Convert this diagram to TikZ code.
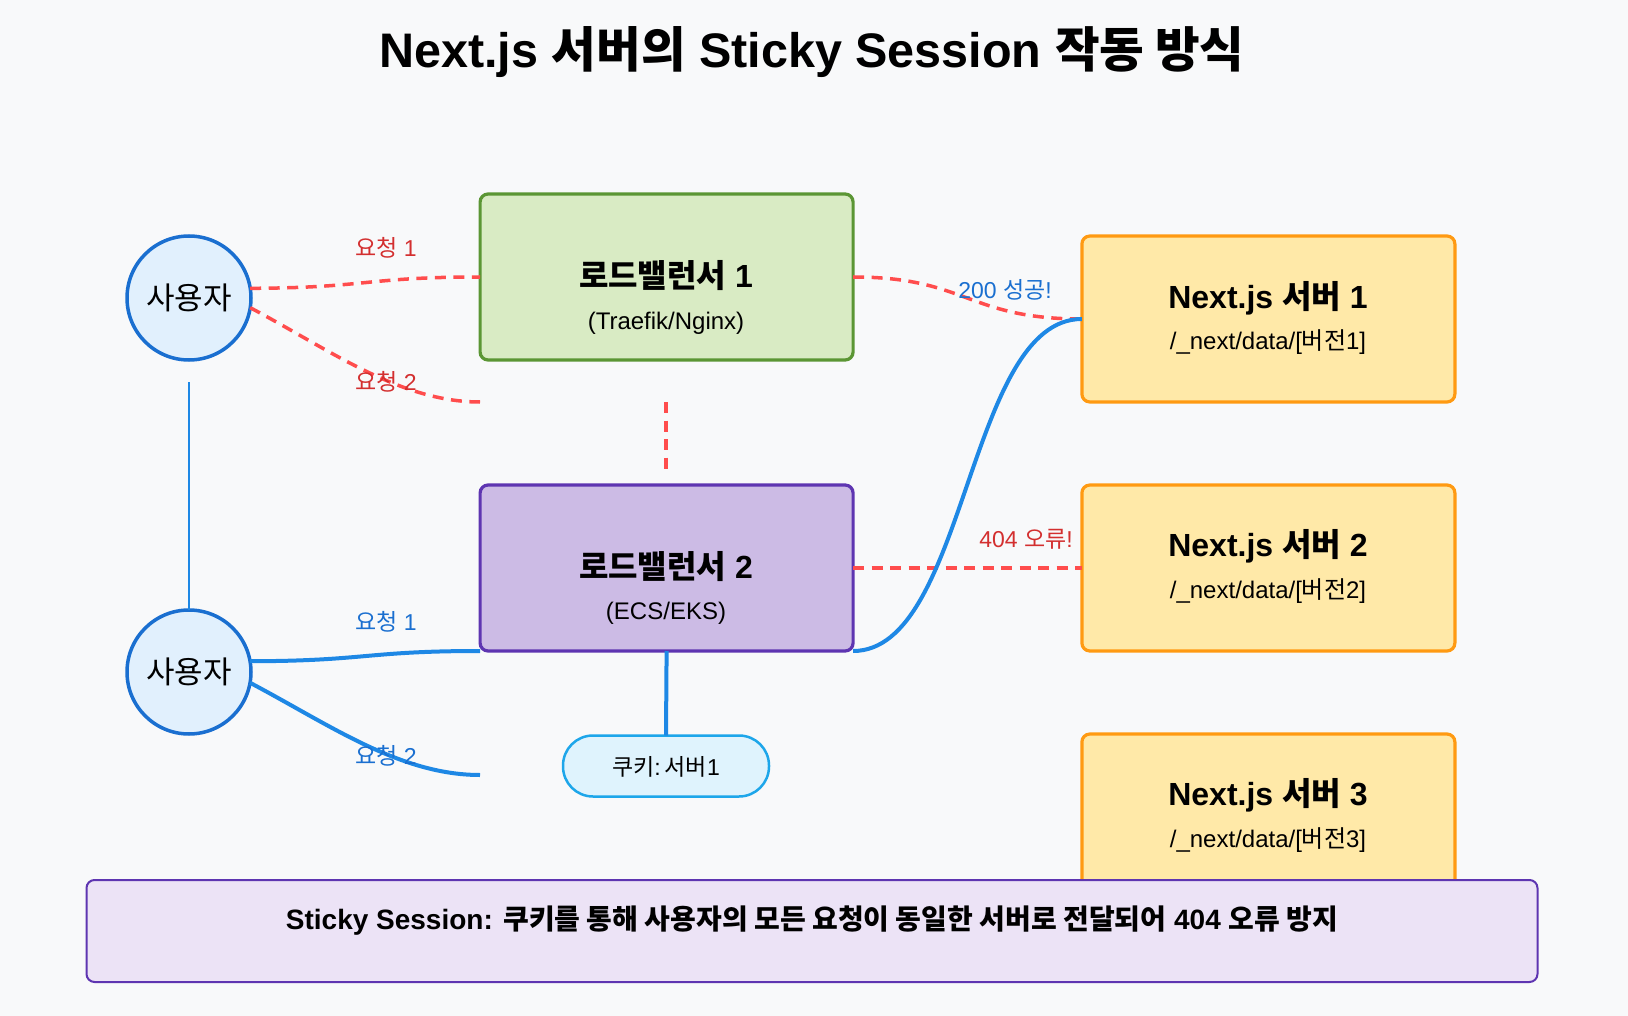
\documentclass[tikz,border=0pt]{standalone}
\usepackage{fontspec}
\setmainfont{Liberation Sans}
\newfontfamily\kofont{Noto Sans CJK KR}
\newcommand\K[1]{{\kofont #1}}
\definecolor{bg}{HTML}{F8F9FA}
\definecolor{userline}{HTML}{1A6FD0}
\definecolor{userfill}{HTML}{E1F0FD}
\definecolor{lbonel}{HTML}{5B9634}
\definecolor{lbonef}{HTML}{D9EBC4}
\definecolor{lbtwol}{HTML}{5E35B1}
\definecolor{lbtwof}{HTML}{CCBBE5}
\definecolor{srvl}{HTML}{FF9A12}
\definecolor{srvf}{HTML}{FFE9A8}
\definecolor{ckl}{HTML}{1DA6EA}
\definecolor{ckf}{HTML}{DFF3FD}
\definecolor{notef}{HTML}{ECE3F6}
\definecolor{redline}{HTML}{FF4D4D}
\definecolor{redtext}{HTML}{D32F2F}
\definecolor{blueline}{HTML}{1E88E5}
\definecolor{bluetext}{HTML}{1A6FD0}
\begin{document}
\begin{tikzpicture}[x=1pt,y=-1pt,
  every node/.style={inner sep=0pt, outer sep=0pt},
  user/.style={circle, draw=userline, fill=userfill, line width=3.5pt, minimum size=124pt, font=\fontsize{31}{37}\selectfont\kofont},
  boxbase/.style={rounded corners=8pt, line width=3.2pt, minimum width=373pt, minimum height=166pt},
  lbone/.style={boxbase, draw=lbonel, fill=lbonef},
  lbtwo/.style={boxbase, draw=lbtwol, fill=lbtwof},
  srv/.style={boxbase, draw=srvl, fill=srvf},
  boxtitle/.style={font=\fontsize{32}{38}\selectfont\bfseries},
  boxsub/.style={font=\fontsize{24}{29}\selectfont},
  lbl/.style={font=\fontsize{23}{28}\selectfont},
  redlbl/.style={lbl, text=redtext},
  bluelbl/.style={lbl, text=bluetext},
  reddash/.style={draw=redline, line width=3.5pt, dash pattern=on 11pt off 7.5pt},
  bluecon/.style={draw=blueline, line width=4pt},
  thinblue/.style={draw=blueline, line width=2pt}
]
\useasboundingbox (0,0) rectangle (1628,1016);
\fill[bg] (0,0) rectangle (1628,1016);

% title
\node[font=\fontsize{48.5}{58}\selectfont\bfseries] (title) at (812,52) {Next.js \K{서버의} Sticky Session \K{작동 방식}};

% users
\node[user] (u1) at (189,298) {사용자};
\node[user] (u2) at (189,672) {사용자};

% load balancers
\node[lbone] (lb1) at (666.6,277) {};
\node[boxtitle] (lb1t) at (666,276) {\K{로드밸런서} 1};
\node[boxsub] (lb1s) at (666,323.5) {(Traefik/Nginx)};

\node[lbtwo] (lb2) at (666.6,568) {};
\node[boxtitle] (lb2t) at (666,567) {\K{로드밸런서} 2};
\node[boxsub] (lb2s) at (666,613) {(ECS/EKS)};

% servers
\node[srv] (s1) at (1268.4,319) {};
\node[boxtitle] (s1t) at (1268,298) {Next.js \K{서버} 1};
\node[boxsub] (s1s) at (1268,342) {/\_next/data/[\K{버전}1]};

\node[srv] (s2) at (1268.4,568) {};
\node[boxtitle] (s2t) at (1268,546) {Next.js \K{서버} 2};
\node[boxsub] (s2s) at (1268,591) {/\_next/data/[\K{버전}2]};

\node[srv] (s3) at (1268.4,817) {};
\node[boxtitle] (s3t) at (1268,795) {Next.js \K{서버} 3};
\node[boxsub] (s3s) at (1268,840) {/\_next/data/[\K{버전}3]};

% cookie
\node[draw=ckl, fill=ckf, line width=2.5pt, rounded corners=30pt, minimum width=206pt, minimum height=61pt] (ck) at (666,766) {};
\node[font=\fontsize{23}{28}\selectfont] (ckt) at (666,767) {\K{쿠키}:\hspace{4pt}\K{서버}1};

% free ends
\coordinate (r2end) at (480,402);
\coordinate (vd1) at (666,402);
\coordinate (vd2) at (666,475);
\coordinate (vtop) at (189,382);
\coordinate (b2end) at (480,775);

% red dashed connections
\draw[reddash] (u1.9) .. controls (366,288) and (366,277) .. (lb1.west);
\draw[reddash] (u1.-9) .. controls (330,350) and (400,402) .. (r2end);
\draw[reddash] (vd1) -- (vd2);
\draw[reddash] (lb1.east) .. controls (967,277) and (967,319) .. (s1.west);
\draw[reddash] (lb2.east) -- (s2.west);

% blue connections
\draw[thinblue] (vtop) -- (u2.north);
\draw[bluecon] (u2.10) .. controls (366,661) and (366,651) .. (lb2.south west);
\draw[bluecon] (u2.-10) .. controls (330,725) and (400,775) .. (b2end);
\draw[bluecon] (lb2.south) -- (ck.north);
\draw[bluecon] (lb2.south east) .. controls (967,651) and (967,319) .. (s1.west);

% labels
\node[redlbl] (l1) at (386,248) {\K{요청} 1};
\node[redlbl] (l2) at (386,382) {\K{요청} 2};
\node[bluelbl] (l3) at (1005,290) {200 \K{성공}!};
\node[redlbl] (l4) at (1026,539) {404 \K{오류}!};
\node[bluelbl] (l5) at (386,622) {\K{요청} 1};
\node[bluelbl] (l6) at (386,756) {\K{요청} 2};

% note
\node[draw=lbtwol, fill=notef, line width=2pt, rounded corners=8pt, minimum width=1451pt, minimum height=102pt] (note) at (812,931) {};
\node[font=\fontsize{28}{34}\selectfont\bfseries] (notet) at (812,921) {Sticky Session: \K{쿠키를 통해 사용자의 모든 요청이 동일한 서버로 전달되어} 404 \K{오류 방지}};
\end{tikzpicture}
\end{document}
